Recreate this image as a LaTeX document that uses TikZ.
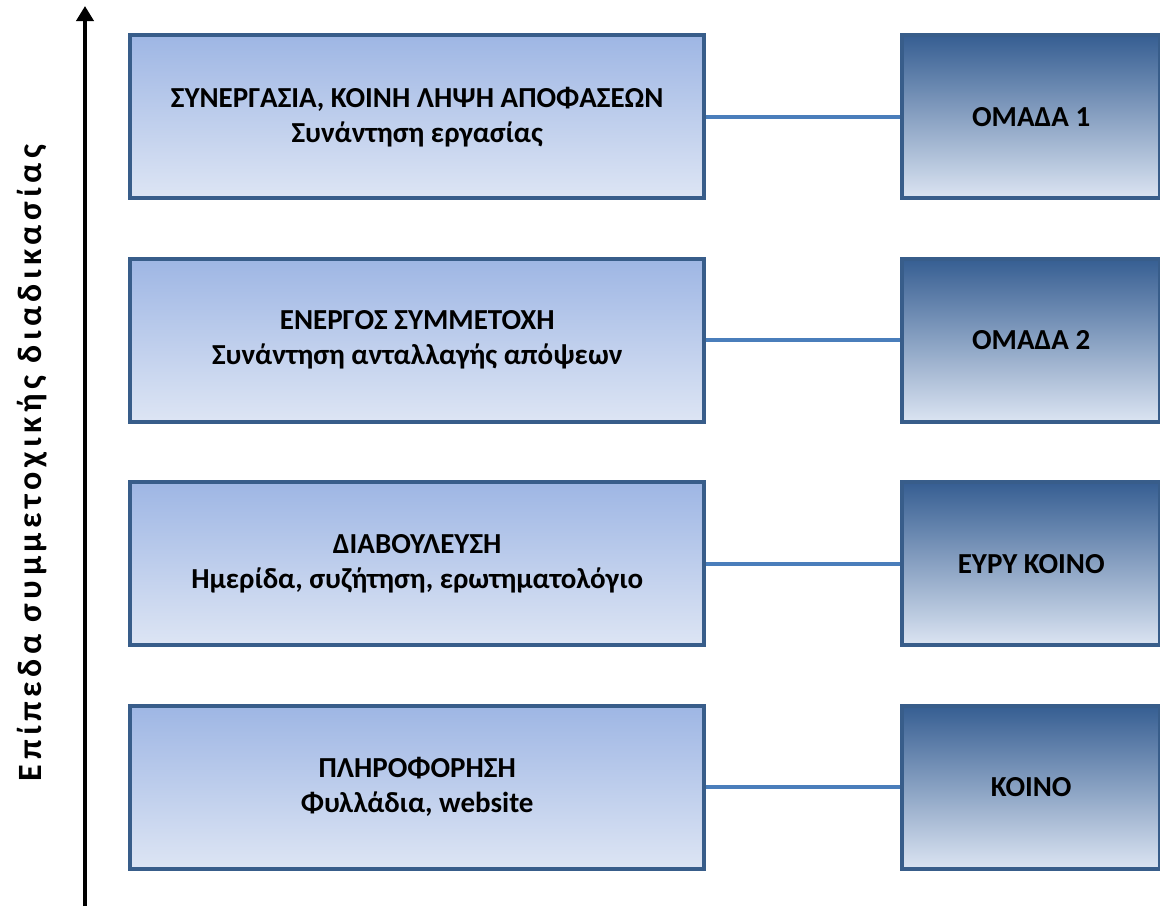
\documentclass[tikz,border=0pt]{standalone}
\usepackage{fontspec}
\setmainfont{Carlito}
\newfontfamily\axisfont[LetterSpace=13.5]{Carlito}
\usetikzlibrary{arrows.meta}

\definecolor{boxline}{HTML}{385D8A}
\definecolor{linkline}{HTML}{4A7EBB}

\tikzstyle {level} = [draw=boxline, line width=4pt, minimum width=574pt, minimum height=163pt, align=center, shading=axis, top color={rgb,255:red,158;green,182;blue,228}, bottom color={rgb,255:red,221;green,229;blue,244}, font=\fontsize{29}{35}\selectfont\bfseries]
\tikzstyle {audience} = [draw=boxline, line width=4pt, minimum width=258pt, minimum height=163pt, align=center, shading=axis, top color={rgb,255:red,54;green,94;blue,146}, middle color={rgb,255:red,148;green,178;blue,218}, bottom color={rgb,255:red,219;green,228;blue,242}, font=\fontsize{29}{35}\selectfont\bfseries]
\tikzstyle {link} = [draw=linkline, line width=4pt]

\begin{document}
\begin{tikzpicture}[x=1pt, y=-1pt]
  \useasboundingbox (0,0) rectangle (1160,906);
  \matrix [anchor=north west, inner sep=0pt, row sep=56.5pt, column sep=194pt] at (128,33) {
    \node [level] (coop) {ΣΥΝΕΡΓΑΣΙΑ, ΚΟΙΝΗ ΛΗΨΗ ΑΠΟΦΑΣΕΩΝ\\Συνάντηση εργασίας}; &
    \node [audience] (team1) {ΟΜΑΔΑ 1}; \\
    \node [level] (active) {ΕΝΕΡΓΟΣ ΣΥΜΜΕΤΟΧΗ\\Συνάντηση ανταλλαγής απόψεων}; &
    \node [audience] (team2) {ΟΜΑΔΑ 2}; \\
    \node [level] (consult) {ΔΙΑΒΟΥΛΕΥΣΗ\\Ημερίδα, συζήτηση, ερωτηματολόγιο}; &
    \node [audience] (wide) {ΕΥΡΥ ΚΟΙΝΟ}; \\
    \node [level] (inform) {ΠΛΗΡΟΦΟΡΗΣΗ\\Φυλλάδια, website}; &
    \node [audience] (public) {ΚΟΙΝΟ}; \\
  };
  \draw [link] (coop) -- (team1);
  \draw [link] (active) -- (team2);
  \draw [link] (consult) -- (wide);
  \draw [link] (inform) -- (public);
  % axis
  \coordinate (axisbot) at (85,906);
  \coordinate (axistop) at (85,6);
  \draw [line width=4pt, -{Triangle[length=15pt, width=17pt]}] (axisbot) -- (axistop);
  \node [rotate=90, font=\fontsize{34}{38}\selectfont\axisfont\bfseries] (axislabel) at (32,463) {Επίπεδα συμμετοχικής διαδικασίας};
\end{tikzpicture}
\end{document}
